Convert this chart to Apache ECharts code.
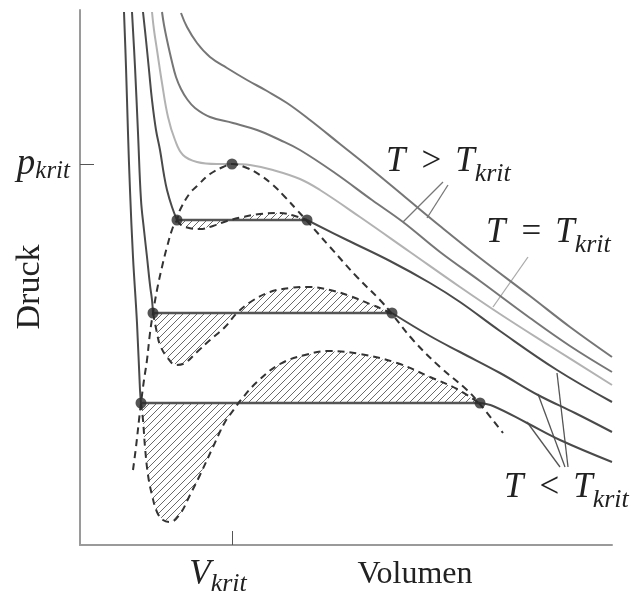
<!DOCTYPE html>
<html><head><meta charset="utf-8">
<script src="https://cdn.jsdelivr.net/npm/echarts@6/dist/echarts.min.js"></script>
<style>html,body{margin:0;padding:0;background:#fff;}#c{width:634px;height:592px;}</style>
</head><body><div id="c"></div>
<script>
// critical point (Volumen, Druck) in arbitrary units
const vKrit = 152, pKrit = 381;
const tickLabelX = ['V', 'krit'];
const tickLabelY = ['p', 'krit'];
const axisNameX = 'Volumen', axisNameY = 'Druck';

// supercritical isotherms  [V, p]
const isoSuperA = [[101,532],[107,518],[117,502],[130,488],[147,477],[167,465],[187,454],[207,442],[230,425],[260,401],[290,377],[325,348],[360,319],[400,287],[450,249],[490,218],[532,188]];
const isoSuperB = [[82,533],[84,520],[87,505],[92,483],[96,468],[101,456],[107,446],[115,437],[130,428],[153,422],[177,415],[200,405],[220,395],[255,372],[292,345],[323,323],[360,293],[400,264],[450,227],[490,199],[532,173]];
// critical isotherm
const isoCrit = [[72,533],[74,515],[77,495],[82,462],[88,428],[95,405],[103,390],[117,383],[137,381],[152,381],[170,380],[193,375],[220,366],[240,355],[280,328],[330,293],[380,258],[420,231],[470,199],[532,160]];
// subcritical isotherms: liquid branch, tie line, gas branch
const isoSub1Liquid = [[63,533],[66,505],[69,475],[72,445],[76,415],[80,395],[84,370],[87,355],[92,338],[97,325]];
const isoSub1Tie = [[97,325],[227,325]];
const isoSub1Gas = [[227,325],[267,305],[310,284],[350,262],[380,243],[420,214],[477,175],[532,143]];
const isoSub2Liquid = [[52,533],[55,478],[58,412],[61,345],[64,315],[67,288],[70,260],[72,245],[73,232]];
const isoSub2Tie = [[73,232],[312,232]];
const isoSub2Gas = [[312,232],[350,209],[380,193],[420,172],[458,150],[495,132],[532,113]];
const isoSub3Liquid = [[44,533],[46,478],[48,412],[50,355],[53,288],[57,222],[60,155],[61,142]];
const isoSub3Tie = [[61,142],[400,142]];
const isoSub3Gas = [[400,142],[413,139],[447,122],[480,105],[532,83]];
// coexistence curve (dashed)
const coexistence = [[53,75],[56,98],[59,125],[61,142],[64,165],[67,185],[70,212],[73,232],[77,255],[82,278],[87,298],[93,318],[97,325],[100,335],[110,352],[117,359],[130,371],[143,378],[152,381],[167,377],[180,370],[193,360],[205,348],[217,335],[227,324],[250,298],[277,268],[300,245],[312,231],[333,205],[360,178],[387,155],[399,142],[423,112]];
// van der Waals loops (dashed, hatched)
const loop1 = [[97,325],[101,320],[109,317],[120,316],[133,319],[147,324],[163,328],[180,331],[200,332],[215,329],[227,325]];
const loop2 = [[73,232],[77,212],[80,200],[87,188],[96,180],[105,182],[117,193],[130,205],[145,218],[157,232],[172,244],[190,253],[210,257],[230,258],[250,255],[270,249],[290,241],[302,236],[312,231]];
const loop3 = [[61,142],[63,125],[65,98],[68,70],[72,50],[77,33],[83,25],[90,23],[100,31],[110,50],[120,70],[133,98],[145,123],[155,137],[160,144],[177,163],[200,181],[225,190],[250,194],[280,191],[317,182],[350,168],[377,156],[399,142]];
// marked points
const markedPoints = [[97,325],[227,325],[73,232],[312,232],[61,142],[400,142],[152,381]];
// leader lines for annotations
const leaderSuper = [[[363,363],[323,323]],[[368,360],[347,327]]];
const leaderCrit = [[[448,288],[413,238]]];
const leaderSub = [[[480,78],[447,123]],[[485,78],[458,151]],[[488,78],[477,172]]];
const labelSuper = ['T', '>', 'T', 'krit'];
const labelCrit = ['T', '=', 'T', 'krit'];
const labelSub = ['T', '<', 'T', 'krit'];

const chart = echarts.init(document.getElementById('c'));

// hatch pattern
const hc = document.createElement('canvas');
hc.width = 7; hc.height = 7;
const hx = hc.getContext('2d');
hx.strokeStyle = '#6a6a6a'; hx.lineWidth = 1;
hx.beginPath();
hx.moveTo(0,7); hx.lineTo(7,0);
hx.moveTo(-1,1); hx.lineTo(1,-1);
hx.moveTo(6,8); hx.lineTo(8,6);
hx.stroke();

const SERIF = '"Liberation Serif", "DejaVu Serif", serif';
const cSub = '#4a4a4a', cSuper = '#767676', cCrit = '#b2b2b2', cDash = '#333333';

function line(data, color, width, extra) {
  return Object.assign({type:'line', data:data, showSymbol:false, symbol:'none', smooth:0.4,
    lineStyle:{color:color, width:width}, silent:true, z:3, animation:false}, extra || {});
}
function dashed(data) {
  return line(data, cDash, 2, {lineStyle:{color:cDash, width:2, type:[7,5]}, z:4});
}
function hatch(loop) {
  return {type:'custom', coordinateSystem:'cartesian2d', data:[loop[0]], silent:true, z:1, animation:false,
    renderItem: function(params, api) {
      const pts = loop.map(function(d){ return api.coord(d); });
      return {type:'polygon', shape:{points:pts}, style:{fill:{image:hc, repeat:'repeat'}, stroke:null}};
    }};
}
function leader(seg, color) {
  return {type:'line', data:seg, showSymbol:false, symbol:'none', silent:true, z:2, animation:false,
    lineStyle:{color:color, width:1.3}};
}

const series = [
  hatch(loop1), hatch(loop2), hatch(loop3),
  line(isoSuperA, cSuper, 2), line(isoSuperB, cSuper, 2), line(isoCrit, cCrit, 2),
  line(isoSub1Liquid, cSub, 2), line(isoSub1Tie, '#555', 2.5, {smooth:false}), line(isoSub1Gas, cSub, 2),
  line(isoSub2Liquid, cSub, 2), line(isoSub2Tie, '#555', 2.5, {smooth:false}), line(isoSub2Gas, cSub, 2),
  line(isoSub3Liquid, cSub, 2), line(isoSub3Tie, '#555', 2.5, {smooth:false}), line(isoSub3Gas, cSub, 2),
  dashed(coexistence), dashed(loop1), dashed(loop2), dashed(loop3)
];
leaderSuper.forEach(function(s){ series.push(leader(s, '#777')); });
leaderCrit.forEach(function(s){ series.push(leader(s, '#aaa')); });
leaderSub.forEach(function(s){ series.push(leader(s, '#555')); });
series.push({type:'scatter', data:markedPoints, symbolSize:11, itemStyle:{color:'#2b2b2b'}, z:6, silent:true, animation:false});

function mathRich() {
  return {
    i:{fontFamily:SERIF, fontStyle:'italic', fontSize:35, lineHeight:50, verticalAlign:'middle', fill:'#222', color:'#222'},
    o:{fontFamily:SERIF, fontSize:35, lineHeight:50, verticalAlign:'middle', padding:[0,14,0,16], fill:'#222', color:'#222'},
    s:{fontFamily:SERIF, fontStyle:'italic', fontSize:26, lineHeight:28, verticalAlign:'bottom', fill:'#222', color:'#222'}
  };
}
function mathText(parts) {
  return '{i|' + parts[0] + '}{o|' + parts[1] + '}{i|' + parts[2] + '}{s|' + parts[3] + '}';
}

const option = {
  animation:false,
  backgroundColor:'#fff',
  grid:{left:80, right:22, top:10, bottom:47, outerBoundsMode:'none', containLabel:false},
  xAxis:{type:'value', min:0, max:532, splitLine:{show:false},
    axisLine:{lineStyle:{color:'#9a9a9a', width:2}},
    axisTick:{show:true, inside:true, length:14, customValues:[vKrit], lineStyle:{color:'#555', width:1}},
    axisLabel:{customValues:[vKrit], margin:8, padding:[0,28,0,0],
      formatter:function(){ return '{v|' + tickLabelX[0] + '}{s|' + tickLabelX[1] + '}'; },
      rich:{v:{fontFamily:SERIF, fontStyle:'italic', fontSize:35, lineHeight:44, verticalAlign:'middle', color:'#222'},
            s:{fontFamily:SERIF, fontStyle:'italic', fontSize:26, lineHeight:28, verticalAlign:'bottom', color:'#222'}}}
  },
  yAxis:{type:'value', min:0, max:535, splitLine:{show:false},
    axisLine:{show:true, lineStyle:{color:'#9a9a9a', width:2}},
    axisTick:{show:true, inside:true, length:14, customValues:[pKrit], lineStyle:{color:'#555', width:1}},
    axisLabel:{customValues:[pKrit], margin:10,
      formatter:function(){ return '{p|' + tickLabelY[0] + '}{s|' + tickLabelY[1] + '}'; },
      rich:{p:{fontFamily:SERIF, fontStyle:'italic', fontSize:37, lineHeight:40, verticalAlign:'middle', color:'#222'},
            s:{fontFamily:SERIF, fontStyle:'italic', fontSize:25, lineHeight:26, verticalAlign:'bottom', color:'#222'}}}
  },
  graphic:[
    {type:'text', x:30, y:287, rotation:Math.PI/2, style:{text:axisNameY, font:'34px ' + SERIF, fill:'#222', align:'center', verticalAlign:'middle'}},
    {type:'text', x:415, y:575, style:{text:axisNameX, font:'32px ' + SERIF, fill:'#222', align:'center', verticalAlign:'middle'}},
    {type:'text', x:386, y:162, style:{text:mathText(labelSuper), rich:mathRich(), align:'left', verticalAlign:'middle'}},
    {type:'text', x:486, y:233, style:{text:mathText(labelCrit), rich:mathRich(), align:'left', verticalAlign:'middle'}},
    {type:'text', x:504, y:488, style:{text:mathText(labelSub), rich:mathRich(), align:'left', verticalAlign:'middle'}}
  ],
  series:series
};
chart.setOption(option);
</script></body></html>
